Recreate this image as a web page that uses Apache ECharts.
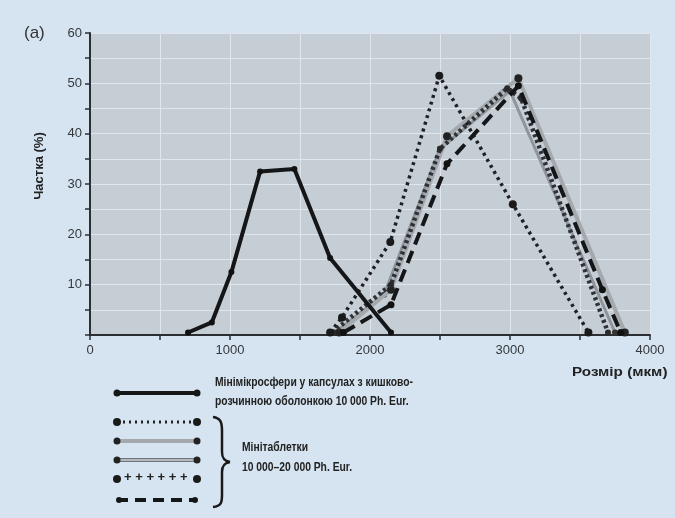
<!DOCTYPE html>
<html lang="uk">
<head>
<meta charset="utf-8">
<title>Частка (%) / Розмір (мкм)</title>
<script src="https://cdn.jsdelivr.net/npm/echarts@6/dist/echarts.min.js"></script>
<style>
  html, body { margin: 0; padding: 0; background: #d6e4f1; }
  #chart { width: 675px; height: 518px; }
</style>
</head>
<body>
<div id="chart"></div>
<script>
// мінімікросфери у капсулах
var mmX = [700, 870, 1010, 1215, 1460, 1715, 2150];
var mmY = [0.5, 2.5, 12.5, 32.5, 33, 15.3, 0.5];

// мінітаблетки (5 серій)
var dotX = [1715, 1800, 2145, 2495, 3020, 3560];
var dotY = [0.5, 3.5, 18.5, 51.5, 26, 0.5];

var greyX = [1780, 2150, 2550, 3060, 3820];
var greyY = [0.5, 9, 39.5, 51, 0.5];

var grey2X = [1750, 2100, 2500, 3000, 3750];
var grey2Y = [0.5, 8, 37, 48.5, 0.5];

var plusX = [1730, 2150, 2500, 2980, 3080, 3700];
var plusY = [0.5, 10, 37, 49, 47, 0.5];

var dashX = [1810, 2150, 2550, 3060, 3660, 3790];
var dashY = [0.5, 6, 34, 49.5, 9, 0.5];

var xTicks = [0, 1000, 2000, 3000, 4000];
var yTicks = [10, 20, 30, 40, 50, 60];

function pairs(xs, ys) {
    var out = [];
    for (var i = 0; i < xs.length; i++) {
        out.push([xs[i], ys[i]]);
    }
    return out;
}

var chart = echarts.init(document.getElementById('chart'));
var font = '"Liberation Sans", Arial, sans-serif';

var gridLine = { show: true, lineStyle: { color: '#e0e6ec', width: 1 } };
var braceStyle = { stroke: '#1a1a1a', lineWidth: 2.5, fill: null };
var legendFont = 'bold 12px ' + font;

// condensed bold text, like the original figure
function label(x, y, txt, sx) {
    return {
        type: 'text', x: x, y: y, scaleX: sx,
        style: { text: txt, font: legendFont, fill: '#222', align: 'left', verticalAlign: 'middle' }
    };
}

chart.setOption({
    backgroundColor: '#d6e4f1',
    animation: false,
    grid: {
        left: 90, right: 25, top: 33, bottom: 183,
        show: true, backgroundColor: '#c5cdd5', borderWidth: 0
    },
    xAxis: {
        type: 'value', min: 0, max: 4000, interval: 1000,
        axisLine: { show: true, onZero: false, lineStyle: { color: '#2b2f33', width: 2 } },
        axisTick: { show: true, length: 5, lineStyle: { color: '#2b2f33', width: 1.5 } },
        minorTick: { show: true, splitNumber: 2, length: 5, lineStyle: { color: '#2b2f33', width: 1.5 } },
        splitLine: gridLine,
        minorSplitLine: gridLine,
        axisLabel: {
            color: '#34383c', fontSize: 13, fontFamily: font, margin: 9,
            formatter: function (v) { return xTicks.indexOf(v) >= 0 ? String(v) : ''; }
        }
    },
    yAxis: {
        type: 'value', min: 0, max: 60, interval: 10,
        axisLine: { show: true, lineStyle: { color: '#2b2f33', width: 2 } },
        axisTick: { show: true, length: 5, lineStyle: { color: '#2b2f33', width: 1.5 } },
        minorTick: { show: true, splitNumber: 2, length: 5, lineStyle: { color: '#2b2f33', width: 1.5 } },
        splitLine: gridLine,
        minorSplitLine: gridLine,
        axisLabel: {
            color: '#34383c', fontSize: 13, fontFamily: font, margin: 8,
            formatter: function (v) { return yTicks.indexOf(v) >= 0 ? String(v) : ''; }
        }
    },
    series: [
        {
            name: 'grey2', type: 'line', data: pairs(grey2X, grey2Y), z: 2,
            symbol: 'circle', symbolSize: 6, itemStyle: { color: '#333' },
            lineStyle: { color: '#8f959b', width: 3 }
        },
        {
            name: 'grey', type: 'line', data: pairs(greyX, greyY), z: 3,
            symbol: 'circle', symbolSize: 8, itemStyle: { color: '#222' },
            lineStyle: { color: '#a4a9ae', width: 4 }
        },
        {
            name: 'plus', type: 'line', data: pairs(plusX, plusY), z: 4,
            symbol: 'circle', symbolSize: 6, itemStyle: { color: '#2a2a2a' },
            lineStyle: { color: '#2e3135', width: 4.5, type: [3, 3] }
        },
        {
            name: 'dotted', type: 'line', data: pairs(dotX, dotY), z: 5,
            symbol: 'circle', symbolSize: 8, itemStyle: { color: '#1a1a1a' },
            lineStyle: { color: '#1e2124', width: 3.5, type: [3, 4] }
        },
        {
            name: 'dashed', type: 'line', data: pairs(dashX, dashY), z: 6,
            symbol: 'circle', symbolSize: 7, itemStyle: { color: '#111' },
            lineStyle: { color: '#141618', width: 4, type: [13, 7] }
        },
        {
            name: 'mm', type: 'line', data: pairs(mmX, mmY), z: 7,
            symbol: 'circle', symbolSize: 6, itemStyle: { color: '#111' },
            lineStyle: { color: '#141618', width: 4 }
        }
    ],
    graphic: [
        {
            type: 'text', x: 24, y: 33,
            style: { text: '(a)', font: '17px ' + font, fill: '#333', align: 'left', verticalAlign: 'middle' }
        },
        {
            type: 'text', x: 39, y: 166, rotation: Math.PI / 2,
            style: { text: 'Частка (%)', font: 'bold 13px ' + font, fill: '#222', align: 'center', verticalAlign: 'middle' }
        },
        label(572, 373, 'Розмір (мкм)', 1.27),

        // legend samples
        { type: 'line', shape: { x1: 117, y1: 393, x2: 197, y2: 393 }, style: { stroke: '#141618', lineWidth: 4 } },
        { type: 'circle', shape: { cx: 117, cy: 393, r: 3.5 }, style: { fill: '#141618' } },
        { type: 'circle', shape: { cx: 197, cy: 393, r: 3.5 }, style: { fill: '#141618' } },

        { type: 'line', shape: { x1: 117, y1: 422, x2: 197, y2: 422 }, style: { stroke: '#1e2124', lineWidth: 3, lineDash: [2, 4] } },
        { type: 'circle', shape: { cx: 117, cy: 422, r: 4 }, style: { fill: '#1a1a1a' } },
        { type: 'circle', shape: { cx: 197, cy: 422, r: 4 }, style: { fill: '#1a1a1a' } },

        { type: 'line', shape: { x1: 117, y1: 441, x2: 197, y2: 441 }, style: { stroke: '#a4a9ae', lineWidth: 4 } },
        { type: 'circle', shape: { cx: 117, cy: 441, r: 3.5 }, style: { fill: '#222' } },
        { type: 'circle', shape: { cx: 197, cy: 441, r: 3.5 }, style: { fill: '#222' } },

        { type: 'line', shape: { x1: 117, y1: 460, x2: 197, y2: 460 }, style: { stroke: '#6f757b', lineWidth: 4 } },
        { type: 'line', shape: { x1: 117, y1: 460, x2: 197, y2: 460 }, style: { stroke: '#b4b9be', lineWidth: 2 } },
        { type: 'circle', shape: { cx: 117, cy: 460, r: 3.5 }, style: { fill: '#222' } },
        { type: 'circle', shape: { cx: 197, cy: 460, r: 3.5 }, style: { fill: '#222' } },

        { type: 'text', left: 124, top: 471, style: { text: '+ + + + + +', font: 'bold 13px ' + font, fill: '#222' } },
        { type: 'circle', shape: { cx: 117, cy: 479, r: 4 }, style: { fill: '#1a1a1a' } },
        { type: 'circle', shape: { cx: 197, cy: 479, r: 4 }, style: { fill: '#1a1a1a' } },

        { type: 'line', shape: { x1: 117, y1: 500, x2: 197, y2: 500 }, style: { stroke: '#141618', lineWidth: 4, lineDash: [11, 7] } },
        { type: 'circle', shape: { cx: 119, cy: 500, r: 3 }, style: { fill: '#141618' } },
        { type: 'circle', shape: { cx: 195, cy: 500, r: 3 }, style: { fill: '#141618' } },

        // brace
        { type: 'bezierCurve', shape: { x1: 213, y1: 417, cpx1: 221, cpy1: 418, cpx2: 222, cpy2: 423, x2: 222, y2: 431 }, style: braceStyle },
        { type: 'line', shape: { x1: 222, y1: 431, x2: 222, y2: 452 }, style: braceStyle },
        { type: 'bezierCurve', shape: { x1: 222, y1: 452, cpx1: 222, cpy1: 458, cpx2: 224, cpy2: 461, x2: 230, y2: 462 }, style: braceStyle },
        { type: 'bezierCurve', shape: { x1: 230, y1: 462, cpx1: 224, cpy1: 463, cpx2: 222, cpy2: 466, x2: 222, y2: 472 }, style: braceStyle },
        { type: 'line', shape: { x1: 222, y1: 472, x2: 222, y2: 495 }, style: braceStyle },
        { type: 'bezierCurve', shape: { x1: 222, y1: 495, cpx1: 222, cpy1: 503, cpx2: 221, cpy2: 506, x2: 213, y2: 507 }, style: braceStyle },

        label(215, 383, 'Мінімікросфери у капсулах з кишково-', 0.86),
        label(215, 402, 'розчинною оболонкою 10 000 Ph. Eur.', 0.86),
        label(242, 448, 'Мінітаблетки', 0.86),
        label(242, 468, '10 000–20 000 Ph. Eur.', 0.86)
    ]
});
</script>
</body>
</html>
